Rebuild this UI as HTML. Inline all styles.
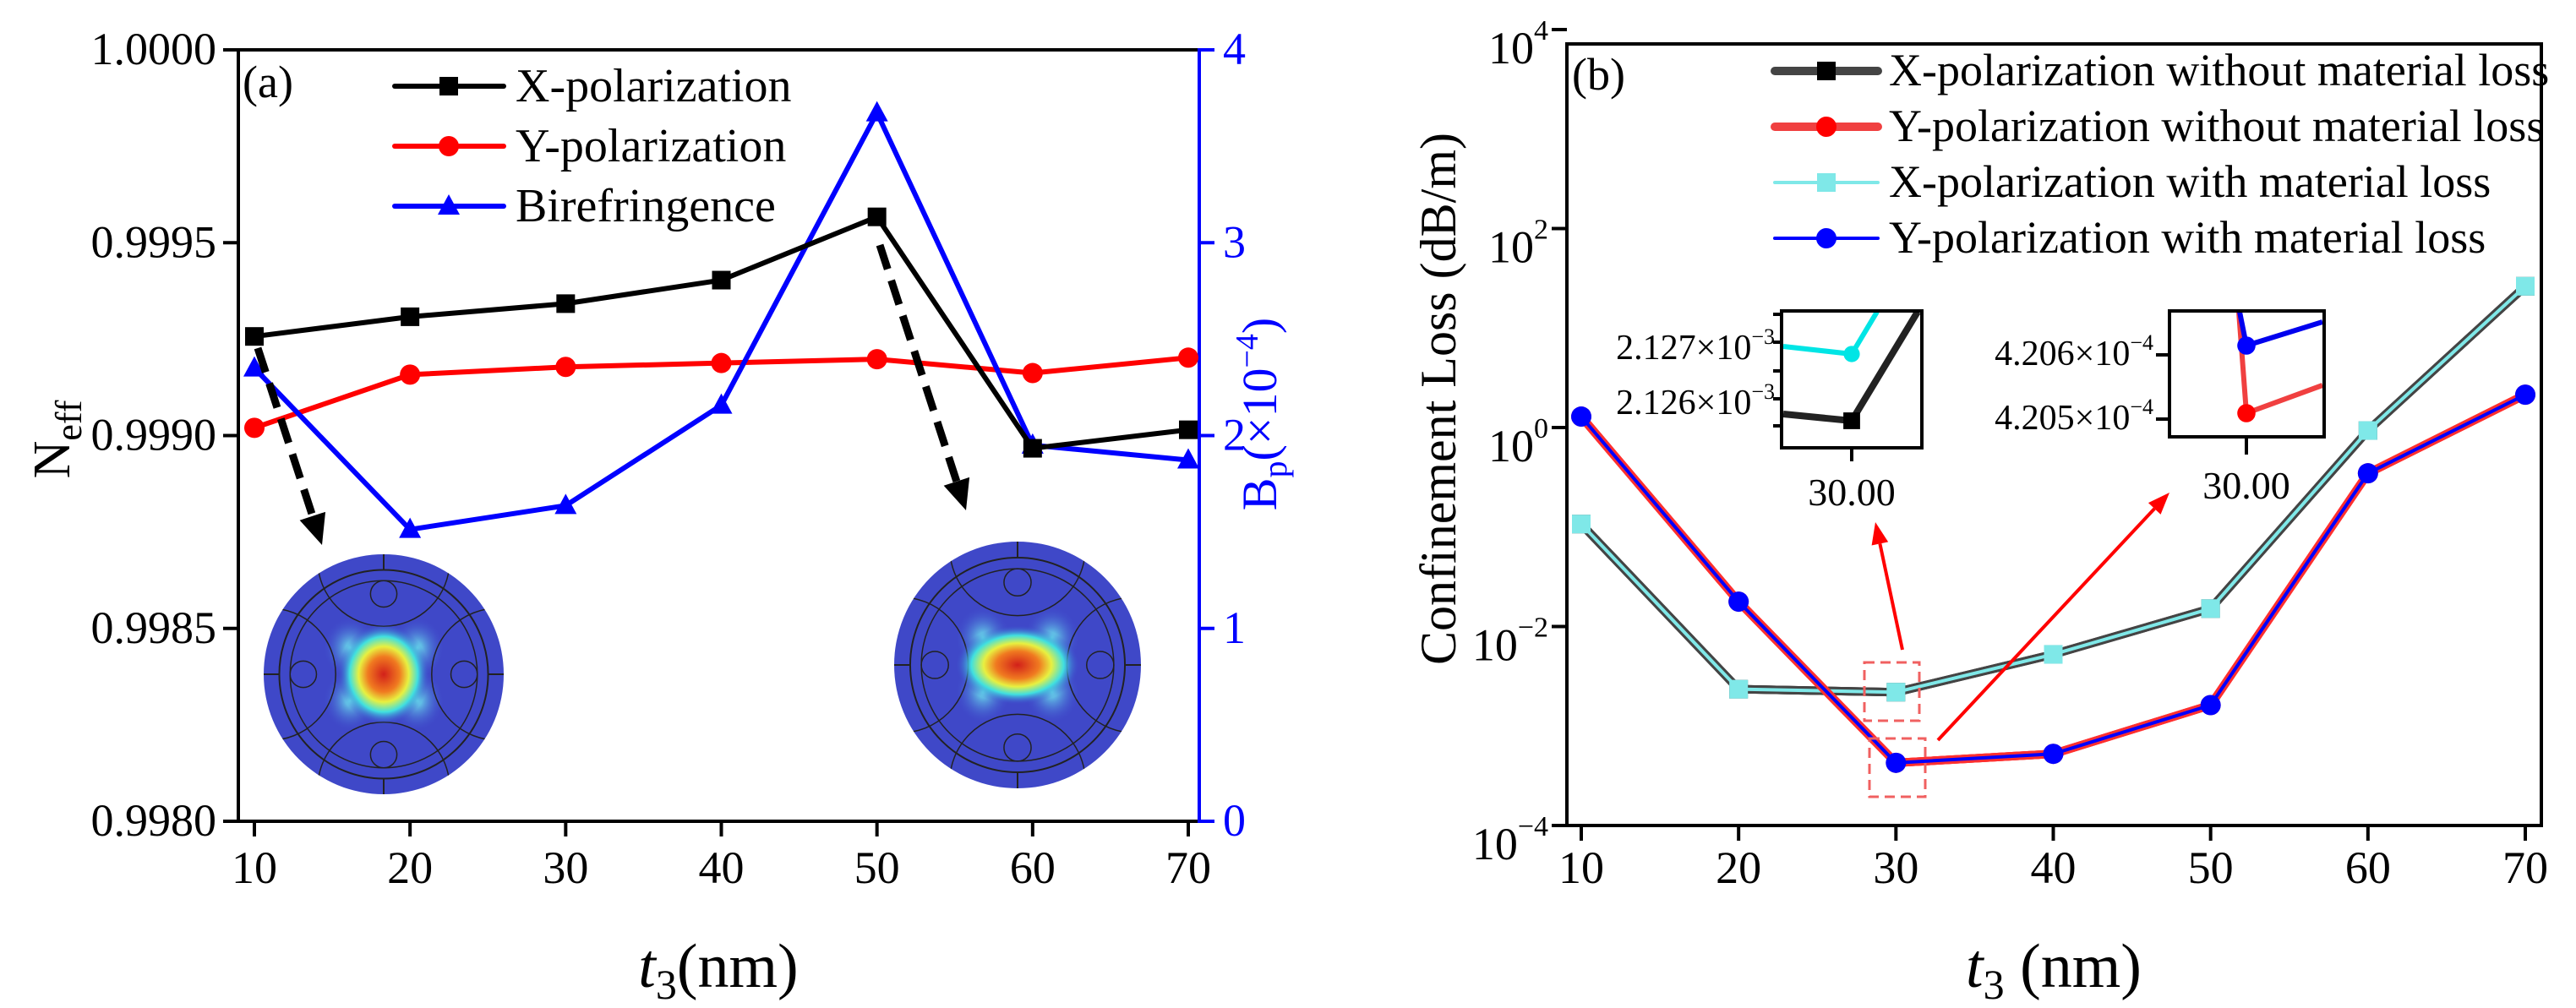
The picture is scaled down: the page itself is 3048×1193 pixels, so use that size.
<!DOCTYPE html>
<html><head><meta charset="utf-8"><style>
html,body{margin:0;padding:0;background:#fff;}
svg{display:block;}
svg text{font-family:"Liberation Serif","Times New Roman",serif;}
</style></head><body>
<svg id="fig" width="3048" height="1193" viewBox="0 0 3048 1193" xmlns="http://www.w3.org/2000/svg" font-family="Liberation Serif, serif">
<g id="pa"></g>
<g id="pb"></g>
</svg>
<script>
const cats = [10,20,30,40,50,60,70];
const xPolNeff = [0.999257,0.999308,0.999342,0.999403,0.999567,0.998967,0.999015];
const yPolNeff = [0.99902,0.999158,0.999178,0.999188,0.999198,0.999162,0.999202];
const biref = [2.35,1.513,1.637,2.157,3.673,1.95,1.873];
const neffTicks = ["0.9980","0.9985","0.9990","0.9995","1.0000"];
const bpTicks = ["0","1","2","3","4"];
const lossXwith = [-0.97,-2.63,-2.66,-2.28,-1.82,-0.03,1.42];
const lossYwith = [0.11,-1.75,-3.37,-3.28,-2.79,-0.46,0.33];
const lossXwithout = [-0.97,-2.63,-2.66,-2.28,-1.82,-0.03,1.42];
const lossYwithout = [0.11,-1.75,-3.37,-3.28,-2.79,-0.46,0.33];
const logTicks = [-4,-2,0,2,4];

const NS="http://www.w3.org/2000/svg";
function mk(parent,tag,attrs,text){const e=document.createElementNS(NS,tag);for(const k in attrs)e.setAttribute(k,attrs[k]);if(tag==='text')e.setAttribute('font-family','Liberation Serif, serif');if(text!==undefined)e.textContent=text;parent.appendChild(e);return e;}

// ---------- Panel A ----------
const pa=document.getElementById('pa');
const A={l:282,r:1419,t:59,b:972};
const ax=v=>301+(v-10)/60*(1406-301);
const ayN=v=>A.b-(v-0.998)/0.002*(A.b-A.t);
const ayB=v=>A.b-v/4*(A.b-A.t);

function modeImg(parent,cx,cy,r,wide,name){
  const g=mk(parent,'g',{});
  
  
  const id='gr'+name, cid='cl'+name, lid='lb'+name;
  const defs=mk(g,'defs',{});
  const rg=mk(defs,'radialGradient',{id:id,cx:'50%',cy:'50%',r:'50%'});
  mk(rg,'stop',{offset:'0%','stop-color':'#d2201a'});
  mk(rg,'stop',{offset:'35%','stop-color':'#f07a20'});
  mk(rg,'stop',{offset:'55%','stop-color':'#e8f040'});
  mk(rg,'stop',{offset:'75%','stop-color':'#40e0e0'});
  mk(rg,'stop',{offset:'100%','stop-color':'#4050d0','stop-opacity':'0'});
  const lg=mk(defs,'radialGradient',{id:lid,cx:'50%',cy:'50%',r:'50%'});
  mk(lg,'stop',{offset:'0%','stop-color':'#70f0f0'});
  mk(lg,'stop',{offset:'100%','stop-color':'#4050d0','stop-opacity':'0'});
  const cp=mk(defs,'clipPath',{id:cid});
  mk(cp,'circle',{cx:cx,cy:cy,r:r});
  mk(g,'circle',{cx:cx,cy:cy,r:r,fill:'#3f48c8'});
  const inner=mk(g,'g',{'clip-path':'url(#'+cid+')'});
  // light lobes
  [[-1,-1],[1,-1],[-1,1],[1,1]].forEach(([dx,dy])=>{
    mk(inner,'ellipse',{cx:cx+dx*r*0.28,cy:cy+dy*r*0.22,rx:r*0.22,ry:r*0.25,fill:'url(#'+lid+')'});
  });
  mk(inner,'circle',{cx:cx,cy:cy,r:r*0.87,fill:'none',stroke:'#222',"stroke-width":2});
  mk(inner,'circle',{cx:cx,cy:cy,r:r*0.78,fill:'none',stroke:'#222',"stroke-width":1.5});
  [[0,-1],[0,1],[-1,0],[1,0]].forEach(([dx,dy])=>{
    mk(inner,'circle',{cx:cx+dx*r*0.67,cy:cy+dy*r*0.67,r:r*0.11,fill:'none',stroke:'#222',"stroke-width":1.5});
    mk(inner,'circle',{cx:cx+dx*r*0.95,cy:cy+dy*r*0.95,r:r*0.55,fill:'none',stroke:'#222',"stroke-width":1.5});
  });
  if(wide) mk(inner,'ellipse',{cx:cx,cy:cy,rx:r*0.5,ry:r*0.32,fill:'url(#'+id+')'});
  else mk(inner,'ellipse',{cx:cx,cy:cy,rx:r*0.38,ry:r*0.42,fill:'url(#'+id+')'});
  mk(inner,'line',{x1:cx,y1:cy-r,x2:cx,y2:cy-r*0.87,stroke:'#222','stroke-width':2});
  mk(inner,'line',{x1:cx,y1:cy+r,x2:cx,y2:cy+r*0.87,stroke:'#222','stroke-width':2});
  mk(inner,'line',{x1:cx-r,y1:cy,x2:cx-r*0.87,y2:cy,stroke:'#222','stroke-width':2});
  mk(inner,'line',{x1:cx+r,y1:cy,x2:cx+r*0.87,y2:cy,stroke:'#222','stroke-width':2});
}
modeImg(pa,454,798,142,false,'mode-profile-10nm');
modeImg(pa,1204,787,146,true,'mode-profile-50nm');

let e;
e=mk(pa,'line',{x1:A.l,y1:A.t,x2:A.r,y2:A.t,stroke:'#000','stroke-width':4});

e=mk(pa,'line',{x1:A.l,y1:A.t-2,x2:A.l,y2:A.b+2,stroke:'#000','stroke-width':4});

e=mk(pa,'line',{x1:A.l,y1:A.b,x2:A.r,y2:A.b,stroke:'#000','stroke-width':4});

e=mk(pa,'line',{x1:A.r,y1:A.t-2,x2:A.r,y2:A.b+2,stroke:'#0000ff','stroke-width':4});

neffTicks.forEach((t,i)=>{
  const y=ayN(0.998+i*0.0005);
  mk(pa,'line',{x1:A.l-18,y1:y,x2:A.l,y2:y,stroke:'#000','stroke-width':4});
  e=mk(pa,'text',{x:A.l-26,y:y+17,'font-size':54,'text-anchor':'end'},t);
  
});
bpTicks.forEach((t,i)=>{
  const y=ayB(i);
  mk(pa,'line',{x1:A.r,y1:y,x2:A.r+18,y2:y,stroke:'#0000ff','stroke-width':4});
  e=mk(pa,'text',{x:A.r+28,y:y+17,'font-size':54,fill:'#0000ff'},t);
  
});
cats.forEach(c=>{
  const x=ax(c);
  mk(pa,'line',{x1:x,y1:A.b,x2:x,y2:A.b+18,stroke:'#000','stroke-width':4});
  e=mk(pa,'text',{x:x,y:1045,'font-size':54,'text-anchor':'middle'},String(c));
  
});
e=mk(pa,'text',{x:850,y:1168,'font-size':74,'text-anchor':'middle'});
e.innerHTML='<tspan font-style="italic">t</tspan><tspan font-size="50" dy="14">3</tspan><tspan dy="-14">(nm)</tspan>';

e=mk(pa,'text',{transform:'translate(82,520) rotate(-90)','font-size':62,'text-anchor':'middle'});
e.innerHTML='N<tspan font-size="44" dy="14">eff</tspan>';

e=mk(pa,'text',{transform:'translate(1510,490) rotate(-90)','font-size':58,'text-anchor':'middle',fill:'#0000ff'});
e.innerHTML='B<tspan font-size="40" dy="12">p</tspan><tspan dy="-12">(×10</tspan><tspan font-size="38" dy="-22">−4</tspan><tspan dy="22">)</tspan>';

e=mk(pa,'text',{x:287,y:115,'font-size':54},'(a)');


function series(parent,vals,xf,yf,color,marker,name,w){
  const g=mk(parent,'g',{});
  
  
  mk(g,'polyline',{points:vals.map((v,i)=>xf(cats[i])+','+yf(v)).join(' '),fill:'none',stroke:color,'stroke-width':w||6,'stroke-linejoin':'round'});
  vals.forEach((v,i)=>drawMarker(g,xf(cats[i]),yf(v),color,marker));
}
function drawMarker(g,x,y,color,marker,s){
  s=s||1;let m;
  if(marker==='sq') m=mk(g,'rect',{x:x-11*s,y:y-11*s,width:22*s,height:22*s,fill:color});
  else if(marker==='ci') m=mk(g,'circle',{cx:x,cy:y,r:12*s,fill:color});
  else m=mk(g,'polygon',{points:`${x},${y-14*s} ${x-13*s},${y+10*s} ${x+13*s},${y+10*s}`,fill:color});
  
  
}
series(pa,yPolNeff,ax,ayN,'#ff0000','ci','series-y-polarization');
series(pa,biref,ax,ayB,'#0000ff','tri','series-birefringence');
series(pa,xPolNeff,ax,ayN,'#000','sq','series-x-polarization');

function dashArrow(parent,x1,y1,x2,y2,name){
  const g=mk(parent,'g',{});
  
  const dx=x2-x1,dy=y2-y1,L=Math.hypot(dx,dy),ux=dx/L,uy=dy/L;
  const bx=x2-ux*36,by=y2-uy*36;
  mk(g,'line',{x1:x1,y1:y1,x2:bx,y2:by,stroke:'#000','stroke-width':9,'stroke-dasharray':'30 14'});
  mk(g,'polygon',{points:`${x2},${y2} ${bx-uy*16},${by+ux*16} ${bx+uy*16},${by-ux*16}`,fill:'#000'});
}
dashArrow(pa,305,412,381,645,'mode-arrow-10nm');
dashArrow(pa,1041,290,1143,604,'mode-arrow-50nm');

const legA=[['X-polarization','#000','sq'],['Y-polarization','#ff0000','ci'],['Birefringence','#0000ff','tri']];
legA.forEach((L,i)=>{
  const y=102+i*71;
  const g=mk(pa,'g',{});
  
  mk(g,'line',{x1:467,y1:y,x2:596,y2:y,stroke:L[1],'stroke-width':6,'stroke-linecap':'round'});
  drawMarker(g,531,y,L[1],L[2]);
  mk(g,'text',{x:610,y:y+18,'font-size':56},L[0]);
});

// ---------- Panel B ----------
const pb=document.getElementById('pb');
const B={l:1854,r:3007,t:52,b:977};
const bx=v=>1871+(v-10)/60*(2988-1871);
const by=v=>B.b-(v+4)/8*(B.b-B.t+17);
e=mk(pb,'rect',{x:B.l,y:B.t,width:B.r-B.l,height:B.b-B.t,fill:'none',stroke:'#000','stroke-width':4});

logTicks.forEach(t=>{
  const y=by(t);
  mk(pb,'line',{x1:B.l-18,y1:y,x2:B.l,y2:y,stroke:'#000','stroke-width':4});
  e=mk(pb,'text',{x:B.l-22,y:y+40,'font-size':54,'text-anchor':'end'});
  e.innerHTML='10<tspan font-size="34" dy="-28">'+(t<0?'−'+(-t):t)+'</tspan>';
  
});
cats.forEach(c=>{
  const x=bx(c);
  mk(pb,'line',{x1:x,y1:B.b,x2:x,y2:B.b+18,stroke:'#000','stroke-width':4});
  e=mk(pb,'text',{x:x,y:1045,'font-size':54,'text-anchor':'middle'},String(c));
  
});
e=mk(pb,'text',{x:2430,y:1168,'font-size':74,'text-anchor':'middle'});
e.innerHTML='<tspan font-style="italic">t</tspan><tspan font-size="50" dy="14">3</tspan><tspan dy="-14"> (nm)</tspan>';

e=mk(pb,'text',{transform:'translate(1722,472) rotate(-90)','font-size':60,'text-anchor':'middle'},'Confinement Loss (dB/m)');

e=mk(pb,'text',{x:1860,y:106,'font-size':54},'(b)');


function series2(vals,under,over,marker,name,wu,wo){
  const g=mk(pb,'g',{});
  
  const pts=vals.map((v,i)=>bx(cats[i])+','+by(v)).join(' ');
  mk(g,'polyline',{points:pts,fill:'none',stroke:under,'stroke-width':wu,'stroke-linejoin':'round'});
  mk(g,'polyline',{points:pts,fill:'none',stroke:over,'stroke-width':wo,'stroke-linejoin':'round'});
  vals.forEach((v,i)=>drawMarker(g,bx(cats[i]),by(v),over,marker));
}
series2(lossXwithout,'#444','#444','sq','series-x-without-loss',10,10);
series2(lossXwith,'#444','#7fe8e8','sq','series-x-with-loss',10,4);
series2(lossYwithout,'#ff3030','#ff3030','ci','series-y-without-loss',10,10);
series2(lossYwith,'#ff3030','#0000ff','ci','series-y-with-loss',10,4);

e=mk(pb,'rect',{x:2206,y:784,width:65,height:69,fill:'none',stroke:'#f06060','stroke-width':3,'stroke-dasharray':'12 7'});

e=mk(pb,'rect',{x:2212,y:874,width:66,height:69,fill:'none',stroke:'#f06060','stroke-width':3,'stroke-dasharray':'12 7'});

function redArrow(x1,y1,x2,y2,name){
  const g=mk(pb,'g',{});
  
  const dx=x2-x1,dy=y2-y1,L=Math.hypot(dx,dy),ux=dx/L,uy=dy/L;
  const ex=x2-ux*26,ey=y2-uy*26;
  mk(g,'line',{x1:x1,y1:y1,x2:ex,y2:ey,stroke:'#ff0000','stroke-width':4});
  mk(g,'polygon',{points:`${x2},${y2} ${ex-uy*10},${ey+ux*10} ${ex+uy*10},${ey-ux*10}`,fill:'#ff0000'});
}
redArrow(2251,769,2219,618,'arrow-to-inset-x');
redArrow(2293,876,2567,583,'arrow-to-inset-y');

let g1=mk(pb,'g',{});

mk(g1,'polyline',{points:'2110,410 2191,419 2221,369',fill:'none',stroke:'#00e5e5','stroke-width':6});
drawMarker(g1,2191,419,'#00e5e5','ci',0.8);
mk(g1,'polyline',{points:'2110,490 2191,498 2269,369',fill:'none',stroke:'#222','stroke-width':8});
drawMarker(g1,2191,498,'#000','sq',0.9);
mk(g1,'rect',{x:2108,y:368,width:166,height:162,fill:'none',stroke:'#000','stroke-width':4});
[372,405,439,472,504].forEach(y=>mk(g1,'line',{x1:2098,y1:y,x2:2108,y2:y,stroke:'#000','stroke-width':4}));
mk(g1,'line',{x1:2191,y1:530,x2:2191,y2:546,stroke:'#000','stroke-width':4});
e=mk(g1,'text',{x:2100,y:425,'font-size':42,'text-anchor':'end'});e.innerHTML='2.127×10<tspan font-size="26" dy="-18">−3</tspan>';
e=mk(g1,'text',{x:2100,y:490,'font-size':42,'text-anchor':'end'});e.innerHTML='2.126×10<tspan font-size="26" dy="-18">−3</tspan>';
mk(g1,'text',{x:2191,y:598,'font-size':46,'text-anchor':'middle'},'30.00');

let g2=mk(pb,'g',{});

mk(g2,'polyline',{points:'2649,369 2658,489 2748,456',fill:'none',stroke:'#f04040','stroke-width':6});
drawMarker(g2,2658,489,'#ff0000','ci',0.9);
mk(g2,'polyline',{points:'2650,369 2658,409 2748,381',fill:'none',stroke:'#0000ee','stroke-width':6});
drawMarker(g2,2658,409,'#0000ff','ci',0.9);
mk(g2,'rect',{x:2567,y:368,width:183,height:149,fill:'none',stroke:'#000','stroke-width':4});
[420,496].forEach(y=>mk(g2,'line',{x1:2551,y1:y,x2:2567,y2:y,stroke:'#000','stroke-width':4}));
mk(g2,'line',{x1:2658,y1:517,x2:2658,y2:538,stroke:'#000','stroke-width':4});
e=mk(g2,'text',{x:2548,y:432,'font-size':42,'text-anchor':'end'});e.innerHTML='4.206×10<tspan font-size="26" dy="-18">−4</tspan>';
e=mk(g2,'text',{x:2548,y:508,'font-size':42,'text-anchor':'end'});e.innerHTML='4.205×10<tspan font-size="26" dy="-18">−4</tspan>';
mk(g2,'text',{x:2658,y:590,'font-size':46,'text-anchor':'middle'},'30.00');

const legB=[['X-polarization without material loss','#444','#000','sq',10],['Y-polarization without material loss','#f04040','#ff0000','ci',10],['X-polarization with material loss','#7fe8e8','#7fe8e8','sq',4],['Y-polarization with material loss','#0000ff','#0000ff','ci',4]];
legB.forEach((L,i)=>{
  const y=84+i*66;
  const g=mk(pb,'g',{});
  
  mk(g,'line',{x1:2100,y1:y,x2:2222,y2:y,stroke:L[1],'stroke-width':L[4],'stroke-linecap':'round'});
  drawMarker(g,2161,y,L[2],L[3]);
  mk(g,'text',{x:2235,y:y+17,'font-size':54},L[0]);
});
</script>
</body></html>
